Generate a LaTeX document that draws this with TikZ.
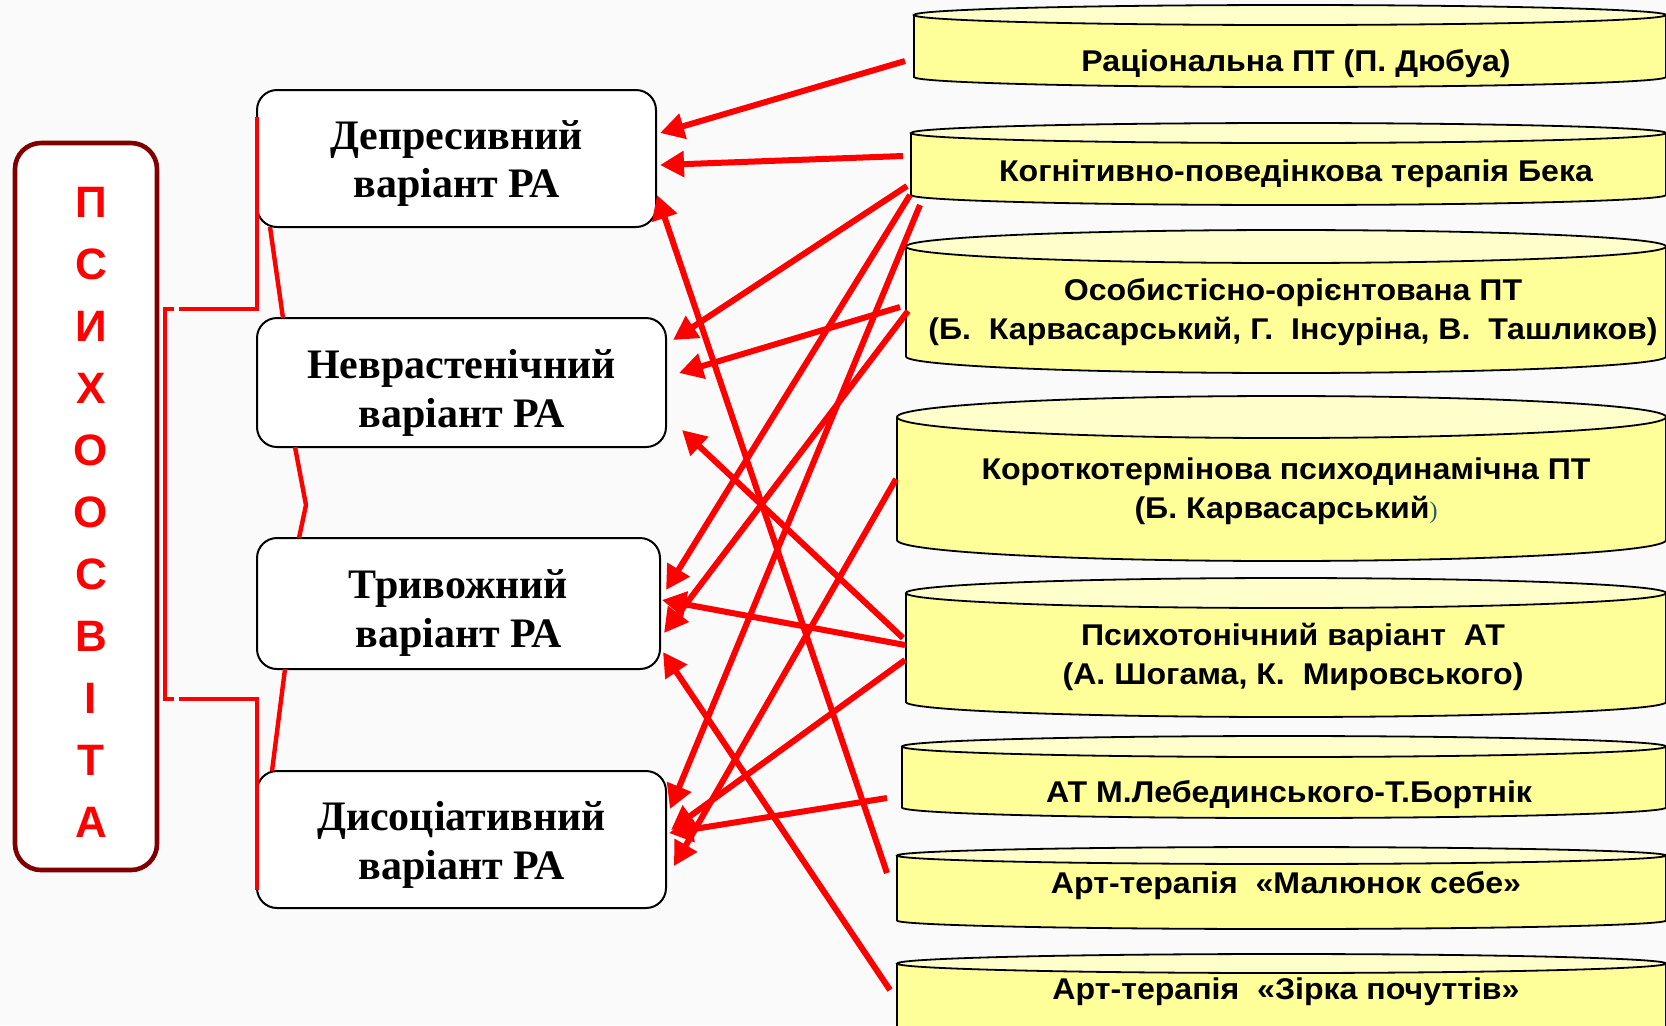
\documentclass[tikz,border=0pt]{standalone}
\usepackage{fontspec}
\setmainfont{Liberation Serif}
\newfontfamily\arialf{Liberation Sans}
\newfontfamily\arialw[FakeStretch=1.07]{Liberation Sans}
\usetikzlibrary{arrows.meta,calc,fit}
\frenchspacing
\definecolor{bgc}{RGB}{250,250,250}
\definecolor{cylY}{RGB}{255,255,153}
\definecolor{cylT}{RGB}{255,255,204}
\definecolor{dred}{RGB}{128,0,0}
\definecolor{tealp}{RGB}{31,90,100}
\newcommand\mycyl[5]{%
  \pgfmathsetmacro\cylcx{(#2+1666)/2}%
  \pgfmathsetmacro\cylrx{(1666-#2)/2}%
  \pgfmathsetmacro\cylrxpt{(1666-#2)/4}%
  \pgfmathsetmacro\cylrypt{#5/2}%
  \pgfmathsetmacro\cylkx{0.5523*\cylrx}%
  \pgfmathsetmacro\cylky{#4+0.5523*#5}%
  \pgfmathsetmacro\cylyl{#4+#5}%
  \fill[cylY] (#2,#3) -- (#2,#4) .. controls (#2,\cylky) and ({\cylcx-\cylkx},\cylyl) .. (\cylcx,\cylyl) .. controls ({\cylcx+\cylkx},\cylyl) and (1666,\cylky) .. (1666,#4) -- (1666,#3) -- cycle;
  \draw[cylline] (#2,#3) -- (#2,#4) .. controls (#2,\cylky) and ({\cylcx-\cylkx},\cylyl) .. (\cylcx,\cylyl) .. controls ({\cylcx+\cylkx},\cylyl) and (1666,\cylky) .. (1666,#4) -- (1666,#3);
  \draw[cylline, fill=cylT] (\cylcx,#3) ellipse [x radius=\cylrxpt pt, y radius=\cylrypt pt];
  \node[fit={(#2,#3) (1666,#4)}, inner sep=0pt, outer sep=0pt] (#1) {};
}
\tikzset{
  rabox/.style={draw=black, line width=1pt, fill=white, rounded corners=10pt, inner sep=0pt, outer sep=0pt},
  ratext/.style={align=center, inner sep=0pt, font=\bfseries\fontsize{21}{24.5}\selectfont},
  cylline/.style={draw=black, line width=0.9pt},
  cyltext/.style={align=center, font=\arialw\bfseries\fontsize{15}{19.5}\selectfont, inner sep=0pt},
  link/.style={draw=red, line width=2.2pt},
  arr/.style={draw=red, line width=3pt, -{Triangle[length=12pt,width=12.5pt]}},
}
\begin{document}
\begin{tikzpicture}[x=0.5pt,y=-0.5pt]
\useasboundingbox (0,0) rectangle (1666,1025);
\clip (0,0) rectangle (1666,1025);
\fill[bgc] (0,0) rectangle (1666,1025);

% cylinders
\mycyl{c1}{914}{15}{77}{10}
\mycyl{c2}{911}{133}{195}{10}
\mycyl{c3}{906}{246.5}{356.5}{16.5}
\mycyl{c4}{897}{417}{540}{21}
\mycyl{c5}{906}{593}{702}{15}
\mycyl{c6}{902}{746.5}{807.5}{10.5}
\mycyl{c7}{897}{855.5}{920.5}{8.5}
\mycyl{c8}{897}{963.5}{1045}{9.5}

\node[cyltext] (c1t) at (1296,64) {Раціональна ПТ (П. Дюбуа)};
\node[cyltext] (c2t) at (1296,174) {Когнітивно-поведінкова терапія Бека};
\node[cyltext] (c3t) at (1293,312) {Особистісно-орієнтована ПТ\\(Б.\ \ Карвасарський, Г.\ \ Інсуріна, В.\ \ Ташликов)};
\node[cyltext] (c4t) at (1286,491) {Короткотермінова психодинамічна ПТ\\(Б. Карвасарський{\rmfamily\mdseries\fontsize{12}{12}\selectfont\color{tealp})}};
\node[cyltext] (c5t) at (1293,657) {Психотонічний варіант\ \ АТ\\(А. Шогама, К.\ \ Мировського)};
\node[cyltext] (c6t) at (1289,795) {АТ М.Лебединського-Т.Бортнік};
\node[cyltext] (c7t) at (1286,886) {Арт-терапія\ \ «Малюнок себе»};
\node[cyltext] (c8t) at (1286,992) {Арт-терапія\ \ «Зірка почуттів»};

% left box
\node[draw=dred, line width=2.3pt, fill=white, rounded corners=13pt, minimum width=71pt, minimum height=363.5pt, inner sep=0pt] (psy) at (86,506.5) {};
\node[font=\arialf\bfseries\fontsize{22}{31}\selectfont, text=red, align=center, inner sep=0pt] (psyt) at (91,512.5) {П\\С\\И\\Х\\О\\О\\С\\В\\І\\Т\\А};

% RA boxes
\node[rabox, minimum width=199.5pt, minimum height=68.5pt] (dep) at (456.5,158.5) {};
\node[rabox, minimum width=204.5pt, minimum height=64.5pt] (nev) at (461.5,382.5) {};
\node[rabox, minimum width=201.5pt, minimum height=65.5pt] (tr) at (458.5,603.5) {};
\node[rabox, minimum width=204.5pt, minimum height=68.5pt] (dys) at (461.5,839.5) {};
\node[ratext] (dept) at ($(dep.center)+(0,5)$) {Депресивний\\варіант РА};
\node[ratext] (nevt) at ($(nev.center)+(0,10)$) {Неврастенічний\\варіант РА};
\node[ratext] (trt) at ($(tr.center)+(0,9)$) {Тривожний\\варіант РА};
\node[ratext] (dyst) at ($(dys.center)+(0,5)$) {Дисоціативний\\варіант РА};

% thin red links
\coordinate (kink) at (306,505);
\draw[link] ($(dep.south west)+(13,0)$) -- ($(nev.north west)+(26,0)$);
\draw[link] ($(nev.south west)+(38,0)$) -- (kink) -- ($(tr.north west)+(42,0)$);
\draw[link] ($(tr.south west)+(28,0)$) -- ($(dys.north west)+(15,0)$);
\coordinate (bt) at (165,309);
\coordinate (bb) at (165,699);
\draw[link] ($(bt)+(9,0)$) -- (bt) -- (bb) -- ($(bb)+(9,0)$);
\draw[link] ($(bt)+(14,0)$) -| ($(dep.north west)+(0,27)$);
\draw[link] ($(bb)+(14,0)$) -| ($(dys.south west)+(0,-18)$);

% arrows
\draw[arr] ($(c1.west)+(-9,15)$) -- ($(dep.east)+(4,-25.5)$);
\draw[arr] ($(c2.west)+(-8,-8)$) -- ($(dep.east)+(4,6.5)$);
\draw[arr] ($(c2.west)+(-4,22)$) -- ($(nev.east)+(7,-42.5)$);
\draw[arr] ($(c2.west)+(-1,31)$) -- ($(tr.east)+(6,-13.5)$);
\draw[arr] ($(c2.west)+(9,41)$) -- ($(dys.east)+(4,-30.5)$);
\draw[arr] ($(c3.west)+(-6,5.5)$) -- ($(nev.east)+(13,-9.5)$);
\draw[arr] ($(c3.west)+(2,9.5)$) -- ($(tr.east)+(4,29.5)$);
\draw[arr] ($(c4.west)+(-1,0.5)$) -- ($(dys.east)+(8,26.5)$);
\draw[arr] ($(c5.west)+(-3,-9.5)$) -- ($(nev.east)+(16,47.5)$);
\draw[arr] ($(c5.west)+(-1,-2.5)$) -- ($(tr.east)+(2,-3.5)$);
\draw[arr] ($(c5.west)+(-1,12.5)$) -- ($(dys.east)+(5,-9.5)$);
\draw[arr] ($(c6.west)+(-15,21)$) -- ($(dys.east)+(3,-6.5)$);
\draw[arr] ($(c7.west)+(-10,-15)$) -- ($(dep.east)+(1,36.5)$);
\draw[arr] ($(c8.west)+(-7,-14.25)$) -- ($(tr.east)+(3,48.5)$);
\end{tikzpicture}
\end{document}
